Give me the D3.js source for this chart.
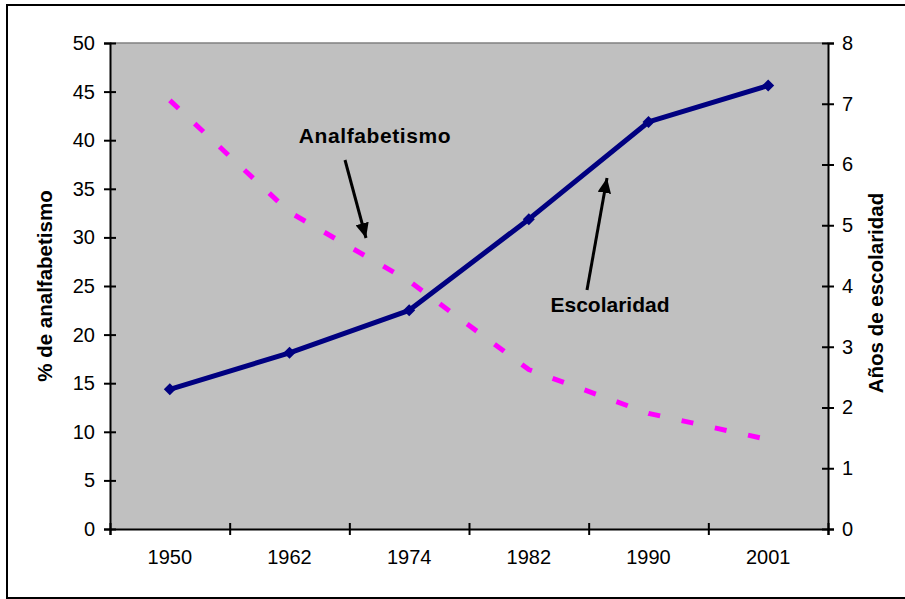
<!DOCTYPE html>
<html>
<head>
<meta charset="utf-8">
<script src="https://cdn.jsdelivr.net/npm/d3@7"></script>
<style>
  body { margin: 0; background: #fff; }
  text { font-family: Arial, "Liberation Sans", sans-serif; }
</style>
</head>
<body>
<div id="vis-container"></div>
<script>
// chart values
const years = ["1950", "1962", "1974", "1982", "1990", "2001"];
const analfabetismo = [44.1, 32.6, 25.5, 16.4, 11.9, 9.2];
const escolaridad = [2.3, 2.9, 3.6, 5.1, 6.7, 7.3];
const leftTicks = [0, 5, 10, 15, 20, 25, 30, 35, 40, 45, 50];
const rightTicks = [0, 1, 2, 3, 4, 5, 6, 7, 8];

let width = 905, height = 599;
let plot = {left: 110, right: 828, top: 43, bottom: 529};

let svg = d3.select("#vis-container")
            .append("svg")
            .attr("width", width)
            .attr("height", height);

// outer frame
svg.append("rect")
   .attr("x", 7).attr("y", 5)
   .attr("width", 905).attr("height", 593)
   .attr("fill", "#fff")
   .attr("stroke", "#000")
   .attr("stroke-width", 2);

// plot area
svg.append("rect")
   .attr("x", plot.left).attr("y", plot.top)
   .attr("width", plot.right - plot.left).attr("height", plot.bottom - plot.top)
   .attr("fill", "#c0c0c0");
svg.append("line")
   .attr("x1", plot.left).attr("x2", plot.right)
   .attr("y1", plot.top).attr("y2", plot.top)
   .attr("stroke", "#808080").attr("stroke-width", 1.5);

// scales
let x = d3.scaleBand().domain(years).range([plot.left, plot.right]);
let xEdges = d3.scaleLinear().domain([0, years.length]).range([plot.left, plot.right]);
let yLeft = d3.scaleLinear().domain([0, 50]).range([plot.bottom, plot.top]);
let yRight = d3.scaleLinear().domain([0, 8]).range([plot.bottom, plot.top]);
let cx = (d) => x(d) + x.bandwidth() / 2;

// left axis
let gL = svg.append("g")
   .attr("transform", `translate(${plot.left},0)`)
   .call(d3.axisLeft(yLeft).tickValues(leftTicks).tickSize(6).tickPadding(9));
gL.selectAll(".tick line").attr("x1", -6).attr("x2", 6);

// right axis
let gR = svg.append("g")
   .attr("transform", `translate(${plot.right},0)`)
   .call(d3.axisRight(yRight).tickValues(rightTicks).tickSize(6).tickPadding(8));
gR.selectAll(".tick line").attr("x1", -6).attr("x2", 6);

// bottom axis: tick marks at the category edges, labels at the centres
let gB = svg.append("g")
   .attr("transform", `translate(0,${plot.bottom})`)
   .call(d3.axisBottom(xEdges).ticks(years.length).tickSize(6).tickFormat(""));
gB.selectAll(".tick line").attr("y1", -6).attr("y2", 6);
let gB2 = svg.append("g")
   .attr("transform", `translate(0,${plot.bottom})`)
   .call(d3.axisBottom(x).tickSize(0).tickPadding(21));
gB2.select(".domain").remove();

[gL, gR, gB].forEach(g => {
  g.select(".domain").attr("stroke", "#000").attr("stroke-width", 2);
  g.selectAll(".tick line").attr("stroke", "#000").attr("stroke-width", 2);
});
[gL, gR, gB2].forEach(g => {
  g.attr("font-size", null).attr("font-family", null);
  g.selectAll("text")
   .attr("fill", "#000")
   .style("font-size", "20px")
   .style("font-family", "Arial, 'Liberation Sans', sans-serif");
});

// axis titles
svg.append("text")
   .attr("transform", `translate(52,${(plot.top + plot.bottom) / 2}) rotate(-90)`)
   .attr("text-anchor", "middle")
   .attr("font-size", "20.5px")
   .attr("font-weight", "bold")
   .text("% de analfabetismo");
svg.append("text")
   .attr("transform", `translate(883,${(plot.top + plot.bottom) / 2 + 7}) rotate(-90)`)
   .attr("text-anchor", "middle")
   .attr("font-size", "20.5px")
   .attr("font-weight", "bold")
   .text("Años de escolaridad");

// Analfabetismo dashed line
svg.append("path")
   .datum(analfabetismo)
   .attr("fill", "none")
   .attr("stroke", "#ff00ff")
   .attr("stroke-width", 5)
   .attr("stroke-dasharray", "12,22")
   .attr("d", d3.line()
     .x((d, i) => cx(years[i]))
     .y((d) => yLeft(d)));

// Escolaridad line + diamonds
svg.append("path")
   .datum(escolaridad)
   .attr("fill", "none")
   .attr("stroke", "#000080")
   .attr("stroke-width", 5)
   .attr("stroke-linejoin", "round")
   .attr("d", d3.line()
     .x((d, i) => cx(years[i]))
     .y((d) => yRight(d)));

svg.selectAll(".marker")
   .data(escolaridad)
   .enter()
   .append("path")
     .attr("class", "marker")
     .attr("transform", (d, i) => `translate(${cx(years[i])},${yRight(d)}) rotate(45)`)
     .attr("d", d3.symbol().type(d3.symbolSquare).size(72))
     .attr("fill", "#000080");

// arrows with labels
svg.append("defs").append("marker")
   .attr("id", "head")
   .attr("viewBox", "0 0 10 10")
   .attr("refX", 10).attr("refY", 5)
   .attr("markerWidth", 5).attr("markerHeight", 4.5)
   .attr("markerUnits", "strokeWidth")
   .attr("orient", "auto")
   .attr("preserveAspectRatio", "none")
   .append("path")
     .attr("d", "M0,0L10,5L0,10Z")
     .attr("fill", "#000");

svg.append("line")
   .attr("x1", 345).attr("y1", 160)
   .attr("x2", 366).attr("y2", 238)
   .attr("stroke", "#000").attr("stroke-width", 3)
   .attr("marker-end", "url(#head)");
svg.append("text")
   .attr("x", 375).attr("y", 143)
   .attr("text-anchor", "middle")
   .attr("font-size", "21px")
   .attr("font-weight", "bold")
   .attr("letter-spacing", "0.6px")
   .text("Analfabetismo");

svg.append("line")
   .attr("x1", 587).attr("y1", 290)
   .attr("x2", 607).attr("y2", 178)
   .attr("stroke", "#000").attr("stroke-width", 3)
   .attr("marker-end", "url(#head)");
svg.append("text")
   .attr("x", 610).attr("y", 312)
   .attr("text-anchor", "middle")
   .attr("font-size", "21px")
   .attr("font-weight", "bold")
   .text("Escolaridad");
</script>
</body>
</html>
